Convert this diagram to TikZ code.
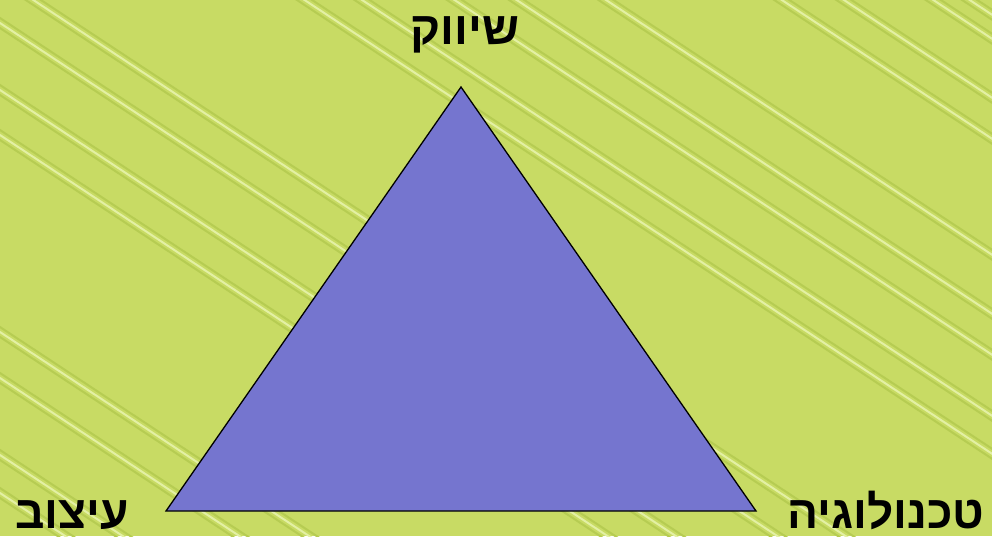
\documentclass[tikz,border=0pt]{standalone}
\usepackage{fontspec}
\newfontfamily\hebfont[Script=Hebrew]{Liberation Sans}
\TeXXeTstate=1
\definecolor{bgc}{HTML}{C8DB64}
\definecolor{stripelight}{HTML}{E3F0A4}
\definecolor{stripedark}{HTML}{B6CC52}
\definecolor{tric}{HTML}{7575CF}
\begin{document}
\begin{tikzpicture}[x=1pt,y=-1pt,
  lbl/.style={font=\hebfont\bfseries\fontsize{46}{46}\selectfont, anchor=base, inner sep=0pt, text=black, text depth=0pt},
  darkline/.style={stripedark, line width=2pt},
  lightline/.style={stripelight, line width=2pt},
  tri/.style={fill=tric, draw=black, line width=1.3pt, line join=miter}]
\useasboundingbox (0,0) rectangle (992,536);
\fill[bgc] (0,0) rectangle (992,536);
\begin{scope}
\clip (0,0) rectangle (992,536);
\foreach \c in {-22,23,90,135,332,378,455,493,-201,-239,-300,-341,-400,-516,-557,-616,-640}{
  \draw[darkline] (-20,{-20*0.66+\c-5}) -- (1012,{1012*0.66+\c-5});
  \draw[darkline] (-20,{-20*0.66+\c+5}) -- (1012,{1012*0.66+\c+5});
  \draw[lightline] (-20,{-20*0.66+\c}) -- (1012,{1012*0.66+\c});
}
\end{scope}
\coordinate (A) at (461,87);
\coordinate (B) at (166,511);
\coordinate (C) at (756,511);
\draw[tri] (A) -- (B) -- (C) -- cycle;
\node[lbl] (marketing) at (465,44) {\beginR שיווק\endR};
\node[lbl] (design) at (72,528) {\beginR עיצוב\endR};
\node[lbl] (technology) at (886,528) {\beginR טכנולוגיה\endR};
\end{tikzpicture}
\end{document}
